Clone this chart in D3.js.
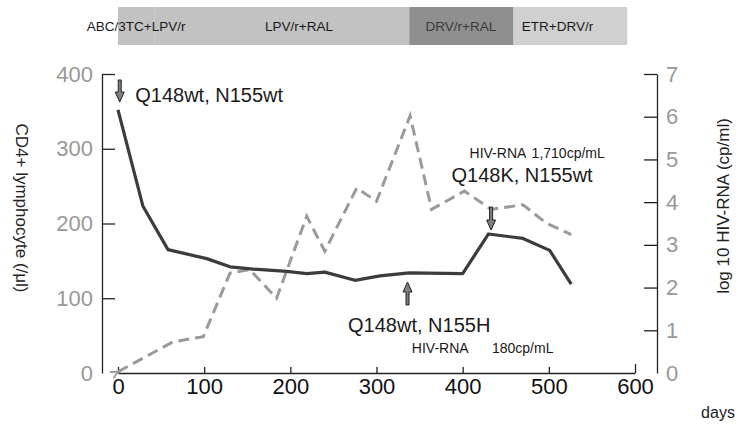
<!DOCTYPE html>
<html>
<head>
<meta charset="utf-8">
<script src="https://cdn.jsdelivr.net/npm/d3@7"></script>
<style>
  body { margin: 0; background: #fff; }
  svg { font-family: "Liberation Sans", Arial, sans-serif; }
</style>
</head>
<body>
<svg width="742" height="427"></svg>
<script>
const cd4Days = [0, 29, 58, 103, 130, 157, 196, 219, 240, 275, 304, 338, 400, 430, 470, 501, 526]
const cd4Values = [352, 223, 165, 153, 142, 139, 136, 133, 135, 124, 130, 134, 133, 186, 180, 164, 119]

const rnaDays = [0, 64, 99, 130, 153, 184, 219, 240, 277, 300, 339, 364, 402, 433, 470, 497, 526]
const rnaValues = [0.03, 0.73, 0.85, 2.34, 2.42, 1.75, 3.67, 2.85, 4.33, 4.02, 6.02, 3.83, 4.26, 3.83, 3.94, 3.51, 3.24]

const regimens = ["ABC/3TC+LPV/r", "LPV/r+RAL", "DRV/r+RAL", "ETR+DRV/r"]
const regimenStart = [0, 42, 338, 459]
const regimenEnd = [42, 338, 459, 591]
const regimenLabelDay = [21, 210, 398, 510]
const regimenColor = ["#c2c2c2", "#c2c2c2", "#8f8f8f", "#d0d0d0"]

const xTicks = [0, 100, 200, 300, 400, 500, 600]
const leftTicks = [0, 100, 200, 300, 400]
const rightTicks = [0, 1, 2, 3, 4, 5, 6, 7]

const notes = [
  { text: "Q148wt, N155wt", day: 20, val: 362.5, size: 20 },
  { text: "Q148K, N155wt", day: 387, val: 255.5, size: 20 },
  { text: "HIV-RNA", day: 408, val: 287.6, size: 14 },
  { text: "1,710cp/mL", day: 480, val: 287.6, size: 14 },
  { text: "Q148wt, N155H", day: 267, val: 55, size: 20 },
  { text: "HIV-RNA", day: 341, val: 26.8, size: 14 },
  { text: "180cp/mL", day: 434, val: 26.8, size: 14 }
]
const arrows = [
  { day: 2, from: 392, to: 362.5 },
  { day: 336, from: 91, to: 121.7 },
  { day: 433, from: 222, to: 191.3 }
]

const svg = d3.select("svg")

const x = d3.scaleLinear().domain([0, 600]).range([118, 635])
const yL = d3.scaleLinear().domain([0, 400]).range([373, 74])
const yR = d3.scaleLinear().domain([0, 7]).range([373, 74])

// treatment bar
const bar = svg.append("g")
bar.selectAll("rect")
   .data(regimens)
   .join("rect")
   .attr("x", (d, i) => x(regimenStart[i]))
   .attr("width", (d, i) => x(regimenEnd[i]) - x(regimenStart[i]))
   .attr("y", 7)
   .attr("height", 38)
   .attr("fill", (d, i) => regimenColor[i])
bar.selectAll("text")
   .data(regimens)
   .join("text")
   .attr("x", (d, i) => x(regimenLabelDay[i]))
   .attr("y", 31)
   .attr("text-anchor", "middle")
   .attr("font-size", 13.5)
   .attr("fill", (d, i) => i == 2 ? "#3a3a3a" : "#1a1a1a")
   .text(d => d)

// axes
const xAxis = d3.axisBottom(x).tickValues(xTicks).tickSizeInner(-6).tickSizeOuter(0).tickPadding(5)
const leftAxis = d3.axisLeft(yL).tickValues(leftTicks).tickSizeInner(-13).tickSizeOuter(0).tickPadding(9)
const rightAxis = d3.axisRight(yR).tickValues(rightTicks).tickFormat(d3.format("d"))
                    .tickSizeInner(-13).tickSizeOuter(0).tickPadding(9)

const gx = svg.append("g").attr("transform", "translate(0,373)").call(xAxis)
gx.selectAll("text").attr("font-size", 22).attr("fill", "#111")

const gl = svg.append("g").attr("transform", "translate(102,0)").call(leftAxis)
gl.selectAll("text").attr("font-size", 22).attr("fill", "#999")

const gr = svg.append("g").attr("transform", "translate(657,0)").call(rightAxis)
gr.selectAll("text").attr("font-size", 22).attr("fill", "#999")

svg.selectAll(".domain, .tick line").attr("stroke", "#222").attr("stroke-width", 1.3)
gl.selectAll(".tick").filter(d => d == 0).select("line").remove()
gr.selectAll(".tick").filter(d => d == 0).select("line").remove()
gx.selectAll(".tick").filter(d => d == 600).select("line").attr("y2", -9)

svg.append("text")
   .attr("transform", "translate(16,208) rotate(90)")
   .attr("text-anchor", "middle")
   .attr("font-size", 17)
   .attr("fill", "#222")
   .text("CD4+ lymphocyte (/μl)")

svg.append("text")
   .attr("transform", "translate(729,206) rotate(-90)")
   .attr("text-anchor", "middle")
   .attr("font-size", 17)
   .attr("fill", "#222")
   .text("log 10 HIV-RNA (cp/ml)")

svg.append("text")
   .attr("x", 718)
   .attr("y", 418)
   .attr("text-anchor", "middle")
   .attr("font-size", 16)
   .attr("fill", "#222")
   .text("days")

// lines
svg.append("defs").append("marker")
   .attr("id", "tip")
   .attr("viewBox", "0 0 10 10")
   .attr("refX", 1).attr("refY", 5)
   .attr("markerWidth", 3).attr("markerHeight", 3)
   .attr("orient", "auto-start-reverse")
   .append("path")
   .attr("d", "M9,1 L1,5 L9,9")
   .attr("fill", "none")
   .attr("stroke", "#999")
   .attr("stroke-width", 2)

const rnaLine = d3.line().x((d, i) => x(rnaDays[i])).y(d => yR(d))
svg.append("path")
   .attr("d", rnaLine(rnaValues))
   .attr("fill", "none")
   .attr("stroke", "#9a9a9a")
   .attr("stroke-width", 3)
   .attr("stroke-dasharray", "11,6")
   .attr("marker-start", "url(#tip)")

const cd4Line = d3.line().x((d, i) => x(cd4Days[i])).y(d => yL(d))
svg.append("path")
   .attr("d", cd4Line(cd4Values))
   .attr("fill", "none")
   .attr("stroke", "#3c3c3c")
   .attr("stroke-width", 3.2)
   .attr("stroke-linejoin", "round")

// arrows
svg.selectAll(".arrow")
   .data(arrows)
   .join("path")
   .attr("class", "arrow")
   .attr("d", d => {
     const cx = x(d.day), y0 = yL(d.from), y1 = yL(d.to)
     const s = y1 > y0 ? 1 : -1
     const hb = y1 - s * 10
     return `M${cx - 1.5},${y0} L${cx + 1.5},${y0} L${cx + 1.5},${hb} L${cx + 4.5},${hb} L${cx},${y1} L${cx - 4.5},${hb} L${cx - 1.5},${hb} Z`
   })
   .attr("fill", "#808080")
   .attr("stroke", "#222")
   .attr("stroke-width", 1)

svg.selectAll(".note")
   .data(notes)
   .join("text")
   .attr("class", "note")
   .attr("x", d => x(d.day))
   .attr("y", d => yL(d.val))
   .attr("font-size", d => d.size)
   .attr("fill", "#1a1a1a")
   .text(d => d.text)
</script>
</body>
</html>
